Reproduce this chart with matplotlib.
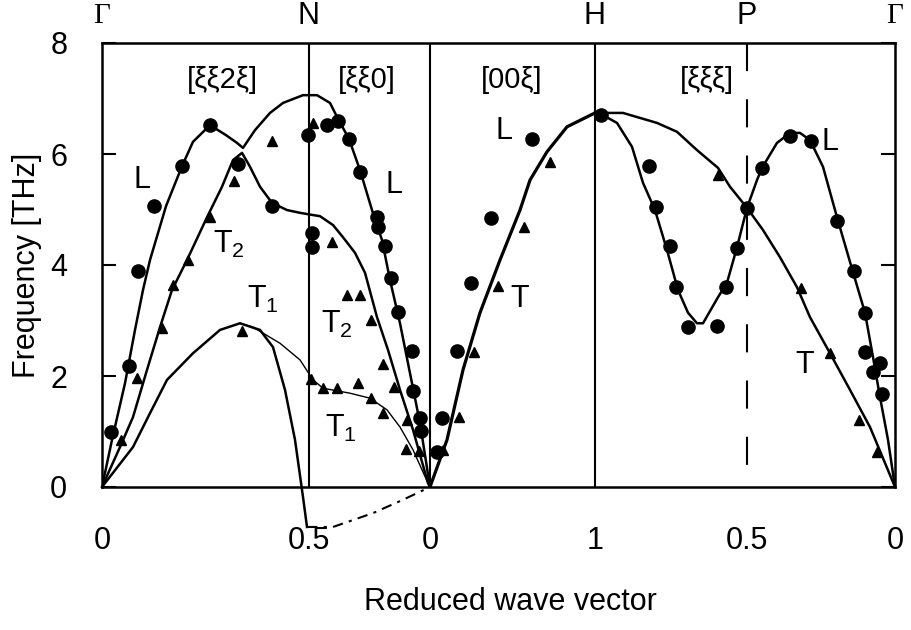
import matplotlib.pyplot as plt
from matplotlib import transforms

plt.rcParams['font.family'] = ['Liberation Sans', 'DejaVu Sans']
plt.rcParams['mathtext.fontset'] = 'custom'
plt.rcParams['mathtext.rm'] = 'Liberation Sans'

# symmetry points along the path (path coordinate)
nodes = [0.0, 2.07, 3.28, 4.93, 6.45, 7.93]
top_names = ['Γ', 'N', '', 'H', 'P', 'Γ']
bottom_ticks = ['0', '0.5', '0', '1', '0.5', '0']
directions = ['[ξξ2ξ]', '[ξξ0]', '[00ξ]', '[ξξξ]']
dir_k = [1.20, 2.65, 4.10, 6.05]

# measured longitudinal modes (circles)
L_k = [0.09, 0.27, 0.36, 0.52, 0.80, 1.08, 1.36, 1.70, 2.06, 2.10, 2.10,
       2.25, 2.36, 2.47, 2.58, 2.75, 2.76, 2.83, 2.89, 2.96, 3.10, 3.11, 3.18, 3.19,
       3.35, 3.40, 3.55, 3.69, 3.89, 4.30, 4.99,
       5.47, 5.54, 5.68, 5.74, 5.86, 6.15, 6.24, 6.35, 6.45, 6.60, 6.88, 7.09,
       7.35, 7.52, 7.63, 7.63, 7.78, 7.71, 7.80]
L_f = [0.99, 2.18, 3.89, 5.06, 5.78, 6.52, 5.82, 5.06, 6.34, 4.58, 4.32,
       6.52, 6.59, 6.27, 5.68, 4.86, 4.68, 4.34, 3.77, 3.15, 2.45, 1.73, 1.24, 1.01,
       0.63, 1.24, 2.45, 3.68, 4.85, 6.27, 6.70,
       5.78, 5.05, 4.34, 3.60, 2.88, 2.90, 3.60, 4.31, 5.03, 5.75, 6.32, 6.23,
       4.79, 3.89, 3.14, 2.43, 2.23, 2.07, 1.68]

# measured transverse modes (triangles)
T_k = [0.19, 0.35, 0.60, 0.71, 0.86, 1.08, 1.32, 1.70, 1.40, 2.09, 2.11,
       2.30, 2.45, 2.58, 2.69, 2.81, 2.21, 2.35, 2.56, 2.92, 2.69, 2.81, 3.05, 3.04, 3.17,
       3.41, 3.57, 3.72, 3.96, 4.22, 4.48,
       6.16, 6.99, 7.28, 7.57, 7.75]
T_f = [0.85, 1.96, 2.86, 3.64, 4.09, 4.86, 5.51, 6.23, 2.81, 1.95, 6.56,
       4.41, 3.46, 3.46, 3.01, 2.22, 1.78, 1.78, 1.87, 1.80, 1.60, 1.33, 1.21, 0.68, 0.65,
       0.67, 1.26, 2.43, 3.62, 4.68, 5.86,
       5.62, 3.59, 2.41, 1.21, 0.63]

# calculated branches
calc_L_k = [0, 0.10, 0.23, 0.33, 0.41, 0.48, 0.64, 0.80, 0.91, 1.08, 1.24, 1.35, 1.41,
            1.53, 1.68, 1.81, 2.01, 2.15, 2.28, 2.35, 2.47, 2.58, 2.70, 2.80, 2.88,
            2.98, 3.08, 3.18, 3.28]
calc_L_f = [0, 0.85, 1.87, 2.83, 3.55, 4.09, 5.06, 5.78, 6.22, 6.52, 6.34, 6.20, 6.11,
            6.43, 6.74, 6.92, 7.06, 7.06, 6.92, 6.67, 6.27, 5.71, 4.99, 4.45, 3.73,
            2.95, 2.05, 1.15, 0]

calc_T2_k = [0, 0.18, 0.31, 0.45, 0.58, 0.70, 0.85, 1.05, 1.20, 1.31, 1.40, 1.48, 1.58,
             1.70, 1.85, 1.98, 2.11, 2.18, 2.31, 2.41, 2.53, 2.63, 2.75, 2.86, 2.98,
             3.11, 3.26, 3.28]
calc_T2_f = [0, 0.72, 1.26, 2.11, 2.88, 3.55, 4.09, 4.86, 5.41, 5.89, 6.02, 5.77, 5.41,
             5.12, 4.99, 4.94, 4.90, 4.88, 4.72, 4.50, 4.22, 3.86, 3.06, 2.47, 1.75,
             1.03, 0.07, 0]

calc_T1_k = [0, 0.31, 0.48, 0.65, 0.91, 1.18, 1.38, 1.58, 1.71, 1.83, 1.93, 2.01, 2.05]
calc_T1_f = [0, 0.72, 1.33, 1.93, 2.41, 2.83, 2.95, 2.83, 2.52, 1.75, 0.85, -0.18, -0.72]

calc_T1b_k = [1.38, 1.51, 1.78, 1.98, 2.11, 2.21, 2.48, 2.68, 2.85, 2.98, 3.11, 3.26, 3.28]
calc_T1b_f = [2.95, 2.88, 2.59, 2.29, 1.93, 1.78, 1.69, 1.60, 1.39, 1.08, 0.67, 0.07, 0]

calc_im_k = [2.05, 2.31, 2.71, 3.01, 3.28]
calc_im_f = [-0.72, -0.72, -0.47, -0.23, 0]

calc_GH_k = [3.28, 3.45, 3.61, 3.78, 3.98, 4.18, 4.28, 4.45, 4.65, 4.93]
calc_GH_f = [0, 0.85, 2.11, 3.14, 4.09, 4.99, 5.53, 6.04, 6.49, 6.74]

calc_HT_k = [4.93, 5.21, 5.55, 5.75, 5.95, 6.16, 6.28, 6.45, 6.61, 6.78, 6.95, 7.08,
             7.28, 7.48, 7.68, 7.93]
calc_HT_f = [6.74, 6.74, 6.56, 6.40, 6.07, 5.75, 5.41, 5.03, 4.63, 4.14, 3.60, 3.06,
             2.41, 1.75, 1.08, 0]

calc_HL_k = [4.93, 5.01, 5.15, 5.30, 5.41, 5.53, 5.65, 5.76, 5.86, 5.95, 6.01, 6.16,
             6.25, 6.35, 6.45, 6.55, 6.60, 6.75, 6.88, 6.98, 7.08, 7.21, 7.35, 7.51,
             7.63, 7.71, 7.78, 7.86, 7.93]
calc_HL_f = [6.74, 6.70, 6.56, 6.13, 5.48, 4.99, 4.27, 3.55, 3.14, 2.95, 2.95, 3.42,
             3.68, 4.32, 5.03, 5.53, 5.75, 6.20, 6.38, 6.38, 6.25, 5.77, 4.86, 3.87,
             3.14, 2.34, 1.62, 0.85, 0]

# branch labels: text, k, f (baseline)
branch_labels = [('L', 0.32, 5.39), ('T$_2$', 1.11, 4.22), ('T$_1$', 1.45, 3.23),
                 ('L', 2.83, 5.30), ('T$_2$', 2.19, 2.77), ('T$_1$', 2.23, 0.90),
                 ('L', 3.93, 6.27), ('T', 4.08, 3.24),
                 ('L', 7.20, 6.07), ('T', 6.93, 2.05)]

fig = plt.figure(figsize=(9.11, 6.3), dpi=100)
ax = fig.add_axes([102 / 911, 1 - 487 / 630, 793 / 911, 444 / 630])

thick = 1.8
ax.plot(calc_L_k, calc_L_f, 'k-', lw=thick)
ax.plot(calc_T2_k, calc_T2_f, 'k-', lw=thick)
ax.plot(calc_T1_k, calc_T1_f, 'k-', lw=thick, clip_on=False)
ax.plot(calc_T1b_k, calc_T1b_f, 'k-', lw=1.0)
ax.plot(calc_im_k, calc_im_f, 'k', lw=1.5, dashes=(5, 3, 1.5, 3), clip_on=False)
ax.plot(calc_GH_k, calc_GH_f, 'k-', lw=2.3)
ax.plot(calc_HT_k, calc_HT_f, 'k-', lw=thick)
ax.plot(calc_HL_k, calc_HL_f, 'k-', lw=thick)

ax.plot(L_k, L_f, 'ko', ms=9.5, ls='none')
ax.plot(T_k, T_f, 'k^', ms=7.5, ls='none')

# Brillouin zone boundaries
for xn in nodes[1:4]:
    ax.axvline(xn, color='k', lw=1.5)
ax.plot([nodes[4], nodes[4]], [8, 0], color='k', lw=1.5, dashes=(13.5, 13.5))

fs = 22
for txt, xd in zip(directions, dir_k):
    ax.text(xd, 7.33, txt, ha='center', va='center', fontsize=fs - 1)

for txt, xk, yf in branch_labels:
    ax.text(xk, yf, txt, ha='left', va='baseline', fontsize=fs)

top = transforms.blended_transform_factory(ax.transData, fig.transFigure)
for name, xn in zip(top_names, nodes):
    if name == 'Γ':
        ax.text(xn, 1 - 16 / 630, name, transform=top, ha='center', va='center',
                fontsize=fs - 1, family=['Liberation Serif', 'DejaVu Serif'])
    elif name:
        ax.text(xn, 1 - 16 / 630, name, transform=top, ha='center', va='center',
                fontsize=fs)

ax.set_xlim(nodes[0], nodes[-1])
ax.set_ylim(0, 8)
ax.set_xticks(nodes)
ax.set_xticklabels(bottom_ticks)
ax.set_yticks([0, 2, 4, 6, 8])
ax.tick_params(axis='x', length=0, pad=28, labelsize=fs)
ax.tick_params(axis='y', direction='in', length=10, width=1.5, pad=25,
               labelsize=fs, right=True)
for s in ax.spines.values():
    s.set_linewidth(1.8)

fig.text(27 / 911, 1 - 265 / 630, 'Frequency [THz]', rotation=90,
         ha='center', va='center', fontsize=fs)
fig.text(510 / 911, 1 - 602 / 630, 'Reduced wave vector',
         ha='center', va='center', fontsize=fs)

fig.savefig('out.png', dpi=100)
